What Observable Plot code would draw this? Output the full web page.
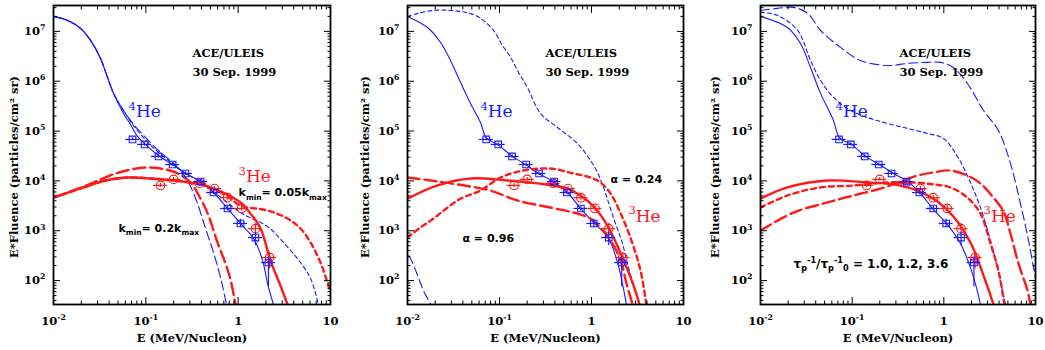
<!DOCTYPE html>
<html><head><meta charset="utf-8">
<script src="https://cdn.jsdelivr.net/npm/d3@7"></script>
<script src="https://cdn.jsdelivr.net/npm/@observablehq/plot@0.6"></script>
<style>
html,body{margin:0;padding:0;background:#fff;}
#row{display:flex;width:1045px;height:350px;overflow:hidden;}
#row svg{flex:none;display:block;}
</style></head><body><div id="row"></div>
<script>
// ---------- axes ----------
const xDomain = [0.01, 10];
const yDomain = [33.1, 3.31e7];
const xTicks = [0.01, 0.1, 1, 10];
const xTickLabels = ["10^{-2}", "10^{-1}", "1", "10"];
const yTicks = [1e2, 1e3, 1e4, 1e5, 1e6, 1e7];
const yTickLabels = ["10^{2}", "10^{3}", "10^{4}", "10^{5}", "10^{6}", "10^{7}"];
const xLabel = "E (MeV/Nucleon)";
const yLabel = "E*Fluence (particles/cm² sr)";

// ---------- measured points (same in every panel) ----------
const he4E  = [0.0718, 0.0968, 0.137, 0.195, 0.269, 0.392, 0.541, 0.767, 1.06, 1.54, 2.13];
const he4F  = [6.8e4, 5.4e4, 3.1e4, 2.13e4, 1.41e4, 9.7e3, 5.85e3, 2.8e3, 1.4e3, 730, 230];
const he4Lo = [6.3e4, 5.0e4, 2.85e4, 1.96e4, 1.3e4, 8.9e3, 5.3e3, 2.5e3, 1.15e3, 500, 75];
const he4Hi = [7.3e4, 5.8e4, 3.35e4, 2.3e4, 1.52e4, 1.05e4, 6.4e3, 3.1e3, 1.7e3, 930, 300];
const he3E  = [0.144, 0.200, 0.382, 0.555, 0.767, 1.09, 1.54, 2.19];
const he3F  = [8.1e3, 1.07e4, 8.9e3, 7.0e3, 4.6e3, 2.8e3, 1.1e3, 290];
const he3Lo = [7.4e3, 9.8e3, 8.1e3, 6.3e3, 4.1e3, 2.45e3, 880, 170];
const he3Hi = [8.9e3, 1.17e4, 9.7e3, 7.7e3, 5.1e3, 3.2e3, 1.39e3, 370];
const energyErrFactor = 1.19;

// ---------- panel 1 : k_min ----------
const p1BlueSolidE = [0.0100,0.0142,0.0196,0.0252,0.0323,0.0385,0.0447,0.0573,0.0682,0.0813,0.0968,0.137,0.195,0.269,0.391,0.541,0.767,1.06,1.47,1.84,2.08,2.41,2.60];
const p1BlueSolidF = [2.0e7,1.66e7,1.15e7,6.6e6,2.87e6,1.19e6,5.7e5,2.25e5,1.36e5,7.8e4,5.6e4,3.24e4,2.13e4,1.41e4,9.7e3,5.85e3,2.8e3,1.40e3,697,252,87,33,20];
const p1BlueDashE = [0.0100,0.0142,0.0196,0.0252,0.0323,0.0385,0.0447,0.0573,0.0735,0.0944,0.137,0.195,0.256,0.305,0.363,0.443,0.541,0.644,0.748,0.806];
const p1BlueDashF = [2.0e7,1.66e7,1.15e7,6.6e6,2.87e6,1.19e6,5.7e5,2.59e5,1.36e5,8.2e4,4.07e4,2.34e4,1.35e4,7.7e3,3.5e3,1.11e3,365,115,33,17];
const p1BlueDotE = [0.0100,0.0142,0.0196,0.0252,0.0323,0.0385,0.0447,0.0573,0.0735,0.0944,0.137,0.195,0.269,0.391,0.597,1.06,2.08,3.10,4.73,6.08,7.41,8.0];
const p1BlueDotF = [2.0e7,1.66e7,1.15e7,6.6e6,2.87e6,1.19e6,5.7e5,2.59e5,1.29e5,7.4e4,3.72e4,2.24e4,1.41e4,9.7e3,5.3e3,2.32e3,1.21e3,580,230,110,33,17];
const p1RedSolidE = [0.0100,0.0211,0.0366,0.0632,0.112,0.200,0.391,0.541,0.767,1.06,1.36,1.75,2.24,2.87,3.42,3.69];
const p1RedSolidF = [4.6e3,7.4e3,1.02e4,1.17e4,1.12e4,1.02e4,8.5e3,7.0e3,5.3e3,3.7e3,2.21e3,1.11e3,252,79,33,20];
const p1RedDashE = [0.0100,0.0211,0.0323,0.0469,0.0682,0.0991,0.144,0.210,0.305,0.391,0.477,0.597,0.730,0.826,0.935,0.984];
const p1RedDashF = [4.6e3,7.7e3,1.07e4,1.41e4,1.69e4,1.86e4,1.77e4,1.48e4,9.3e3,4.4e3,2.02e3,580,219,105,33,20];
const p1RedDotE = [0.0100,0.0211,0.0366,0.0632,0.112,0.200,0.391,0.541,0.767,1.06,2.08,3.42,4.73,6.08,7.80,9.51,10.8];
const p1RedDotF = [4.6e3,7.4e3,1.02e4,1.17e4,1.12e4,1.02e4,8.5e3,7.0e3,4.9e3,3.2e3,2.55e3,1.76e3,1.11e3,580,230,79,40];

// ---------- panel 2 : alpha ----------
const p2BlueSolidE = [0.0100,0.0165,0.0229,0.0293,0.0377,0.0484,0.0621,0.0722,0.0951,0.138,0.192,0.265,0.386,0.548,0.759,1.08,1.53,1.92,2.17,2.40,2.52];
const p2BlueSolidF = [2.0e7,1.2e7,6.0e6,2.62e6,9.5e5,3.58e5,1.49e5,7.2e4,5.4e4,3.1e4,2.13e4,1.41e4,9.7e3,5.85e3,2.8e3,1.40e3,700,230,87,33,20];
const p2BlueDotE = [0.0100,0.0129,0.0192,0.0293,0.0427,0.0577,0.0705,0.0861,0.108,0.132,0.161,0.201,0.279,0.427,0.705,0.975,1.16,1.35,1.73,2.17,2.52,3.01,3.32,3.49];
const p2BlueDotF = [2.0e7,2.3e7,2.64e7,2.64e7,2.41e7,2.0e7,1.52e7,1.05e7,5.2e6,3.0e6,1.5e6,7.5e5,2.25e5,1.18e5,5.6e4,2.57e4,1.48e4,7.4e3,1.84e3,553,182,63,33,20];
const p2BlueDashE = [0.0093,0.0100,0.0113,0.0129,0.0149,0.0178,0.0192];
const p2BlueDashF = [560,365,230,126,63,33,20];
const p2RedSolidE = [0.0100,0.0212,0.0484,0.122,0.259,0.548,0.778,1.08,1.53,2.17,2.79,3.32,3.49];
const p2RedSolidF = [4.4e3,8.1e3,1.12e4,1.02e4,8.9e3,7.0e3,4.9e3,2.92e3,1.16e3,290,91,33,20];
const p2RedDashE = [0.0100,0.0178,0.0293,0.0484,0.0798,0.157,0.358,0.705,0.975,1.19,1.61,2.07,2.40,2.79,2.93];
const p2RedDashF = [1.17e4,1.02e4,8.9e3,7.7e3,6.4e3,4.04e3,2.92e3,2.21e3,1.76e3,1.27e3,636,252,87,33,20];
const p2RedDotE = [0.0100,0.0138,0.0192,0.0265,0.0377,0.0621,0.1025,0.183,0.358,0.637,0.975,1.25,1.61,2.17,2.79,3.41,3.96,4.17];
const p2RedDotF = [730,1.16e3,1.76e3,2.8e3,4.4e3,6.4e3,1.17e4,1.62e4,1.77e4,1.41e4,1.17e4,9.3e3,5.6e3,1.84e3,553,159,33,20];

// ---------- panel 3 : tau ----------
const p3BlueSolidE = [0.0100,0.0197,0.0273,0.0351,0.0452,0.0625,0.0727,0.0984,0.140,0.199,0.282,0.402,0.556,0.771,1.12,1.52,1.95,2.27,2.51,2.64];
const p3BlueSolidF = [2.0e7,1.2e7,5.7e6,1.89e6,5.7e5,1.63e5,7.4e4,5.4e4,3.1e4,2.13e4,1.41e4,9.7e3,5.6e3,2.67e3,1.27e3,553,182,72,33,20];
const p3BlueDotE = [0.0100,0.0153,0.0254,0.0351,0.0452,0.0625,0.0960,0.147,0.243,0.402,0.664,0.991,1.45,1.95,2.51,3.23,3.85,4.36,4.71,4.94];
const p3BlueDotF = [2.41e7,2.1e7,1.05e7,2.62e6,1.04e6,4.73e5,2.59e5,1.87e5,1.42e5,1.13e5,8.95e4,7.1e4,2.82e4,9.3e3,2.92e3,636,174,63,33,20];
const p3BlueDashE = [0.0100,0.0153,0.0229,0.0326,0.0452,0.0746,0.123,0.243,0.402,0.664,0.920,1.27,1.81,2.71,3.94,5.33,6.85,8.39,9.98,11.3];
const p3BlueDashF = [2.64e7,2.9e7,3.03e7,2.3e7,1.05e7,4.78e6,2.62e6,2.07e6,2.28e6,2.39e6,2.39e6,1.89e6,9.0e5,2.59e5,1.03e5,2.24e4,3.5e3,636,115,40];
const p3RedSolidE = [0.0100,0.0197,0.0538,0.147,0.282,0.516,0.853,1.27,1.95,2.71,3.48,3.75];
const p3RedSolidF = [4.4e3,7.4e3,1.02e4,9.3e3,8.5e3,6.4e3,3.86e3,1.93e3,580,126,33,20];
const p3RedDotE = [0.0100,0.0197,0.0452,0.1035,0.243,0.467,0.771,1.18,1.81,2.51,3.23,3.94,4.59,4.82];
const p3RedDotF = [2.92e3,5.1e3,7.4e3,8.1e3,9.3e3,9.3e3,8.5e3,7.4e3,4.6e3,2.21e3,553,159,33,20];
const p3RedDashE = [0.0100,0.0229,0.0538,0.1035,0.204,0.337,0.516,0.771,1.18,1.81,2.51,3.48,4.48,5.33,6.52,8.18,8.81,9.27];
const p3RedDashF = [1.01e3,2.32e3,3.7e3,5.1e3,7.0e3,9.7e3,1.28e4,1.48e4,1.62e4,1.28e4,8.9e3,4.6e3,2.43e3,879,219,63,33,20];

// ---------- styling ----------
const BLUE = "#1a1aff", RED = "#ff1a1a";
const SERIF = "DejaVu Serif", SANS = "DejaVu Sans";
const LONG_BLUE = "9,4", SHORT_BLUE = "4,3", LONG_RED = "12,5", SHORT_RED = "5,4";
const AX = 11.5; // axis font size

const xMinor = [];
for (const d of [0.01, 0.1, 1]) for (let k = 2; k <= 9; k++) xMinor.push(d * k);
const yMinor = [];
for (const d of [10, 1e2, 1e3, 1e4, 1e5, 1e6, 1e7]) for (let k = 2; k <= 9; k++) {
  const v = d * k; if (v >= yDomain[0] && v <= yDomain[1]) yMinor.push(v);
}

function series(E, F) { return E.map((e, i) => ({E: e, F: F[i]})); }
function curve(E, F, stroke, strokeWidth, dash) {
  return Plot.line(series(E, F), {x: "E", y: "F", stroke, strokeWidth, strokeDasharray: dash, curve: "catmull-rom", clip: true});
}
const he4 = he4E.map((e, i) => ({E: e, F: he4F[i], lo: he4Lo[i], hi: he4Hi[i]}));
const he3 = he3E.map((e, i) => ({E: e, F: he3F[i], lo: he3Lo[i], hi: he3Hi[i]}));

function dataMarks() {
  const m = [];
  for (const [d, c, sym, r] of [[he3, RED, "circle", 4.3], [he4, BLUE, "square", 3.7]]) {
    m.push(Plot.ruleY(d, {y: "F", x1: p => p.E / energyErrFactor, x2: p => p.E * energyErrFactor, stroke: c, strokeWidth: 1.2}));
    m.push(Plot.ruleX(d, {x: "E", y1: "lo", y2: "hi", stroke: c, strokeWidth: 1.2}));
    m.push(Plot.dot(d, {x: "E", y: "F", symbol: sym, r, stroke: c, strokeWidth: 1.1, fill: "none"}));
  }
  return m;
}
function note(E, F, t, fill, fontSize, fontFamily, fontWeight = "normal") {
  return Plot.text([{E, F, t}], {x: "E", y: "F", text: "t", textAnchor: "start", lineAnchor: "bottom", fill, fontSize, fontFamily, fontWeight});
}
function tickMarks() {
  const o = {tickFormat: () => "", label: null, strokeWidth: 1};
  return [
    Plot.axisX({...o, anchor: "bottom", ticks: xTicks, tickSize: -7}),
    Plot.axisX({...o, anchor: "top", ticks: xTicks, tickSize: -7}),
    Plot.axisX({...o, anchor: "bottom", ticks: xMinor, tickSize: -3.5}),
    Plot.axisX({...o, anchor: "top", ticks: xMinor, tickSize: -3.5}),
    Plot.axisY({...o, anchor: "left", ticks: yTicks, tickSize: -7}),
    Plot.axisY({...o, anchor: "right", ticks: yTicks, tickSize: -7}),
    Plot.axisY({...o, anchor: "left", ticks: yMinor, tickSize: -3.5}),
    Plot.axisY({...o, anchor: "right", ticks: yMinor, tickSize: -3.5})
  ];
}
function labelMarks(labelDx) {
  const f = {fontFamily: SERIF, fontSize: AX, fontWeight: "bold"};
  return [
    Plot.axisX({anchor: "bottom", ticks: xTicks, tickSize: 0, tickPadding: 12, label: null,
      tickFormat: d => xTickLabels[xTicks.indexOf(d)], ...f}),
    Plot.axisY({anchor: "left", ticks: yTicks, tickSize: 0, tickPadding: 8, label: null,
      tickFormat: d => yTickLabels[yTicks.indexOf(d)], ...f}),
    Plot.text([yLabel], {frameAnchor: "left", text: d => d, rotate: -90, dx: labelDx, dy: 12,
      textAnchor: "middle", lineAnchor: "middle", ...f}),
    Plot.text([xLabel], {frameAnchor: "bottom", text: d => d, dy: 34,
      textAnchor: "middle", lineAnchor: "middle", ...f})
  ];
}
function commonNotes(eAce, e4) {
  return [
    note(eAce, 3.0e6, "ACE/ULEIS", "black", 11.5, SERIF, "bold"),
    note(eAce, 1.25e6, "30 Sep. 1999", "black", 11.5, SERIF, "bold"),
    note(e4, 1.88e5, "^{4}He", BLUE, 17, SERIF)
  ];
}
function panel(o) {
  return Plot.plot({
    width: o.width, height: 350,
    marginLeft: o.ml, marginRight: o.mr, marginTop: 5, marginBottom: 46,
    x: {type: "log", domain: xDomain},
    y: {type: "log", domain: yDomain},
    style: {background: "white", color: "black", fontFamily: SERIF, fontSize: "12px", overflow: "visible"},
    marks: [...o.curves, ...dataMarks(), ...o.notes, ...tickMarks(), ...labelMarks(o.labelDx),
      Plot.frame({stroke: "black", strokeWidth: 1.8})]
  });
}

// rich text: ^{..} superscript, _{..} subscript
function richify(root) {
  root.querySelectorAll("text").forEach(t => {
    const s = t.textContent;
    if (!/[\^_]\{/.test(s)) return;
    const fs = parseFloat(getComputedStyle(t).fontSize) || 12;
    t.textContent = "";
    let cur = 0;
    for (const p of s.split(/(\^\{[^}]*\}|_\{[^}]*\})/).filter(p => p !== "")) {
      let target = 0, txt = p, small = false;
      if (p.startsWith("^{")) { target = -0.42 * fs; txt = p.slice(2, -1); small = true; }
      else if (p.startsWith("_{")) { target = 0.3 * fs; txt = p.slice(2, -1); small = true; }
      const ts = document.createElementNS("http://www.w3.org/2000/svg", "tspan");
      ts.textContent = txt;
      if (small) ts.setAttribute("font-size", (0.68 * fs).toFixed(2) + "px");
      const dy = target - cur;
      if (dy) ts.setAttribute("dy", dy.toFixed(2));
      cur = target;
      t.appendChild(ts);
    }
  });
}

const row = document.getElementById("row");
const panels = [
  panel({width: 350, ml: 53, mr: 20, labelDx: -39,
    curves: [
      curve(p1BlueSolidE, p1BlueSolidF, BLUE, 1.1),
      curve(p1BlueDashE, p1BlueDashF, BLUE, 1.1, LONG_BLUE),
      curve(p1BlueDotE, p1BlueDotF, BLUE, 1.1, SHORT_BLUE),
      curve(p1RedSolidE, p1RedSolidF, RED, 2.4),
      curve(p1RedDashE, p1RedDashF, RED, 2.4, LONG_RED),
      curve(p1RedDotE, p1RedDotF, RED, 2.4, SHORT_RED)
    ],
    notes: [...commonNotes(0.32, 0.065),
      note(1.01, 9.3e3, "^{3}He", RED, 17, SERIF),
      note(1.01, 4.9e3, "k_{min}= 0.05k_{max}", "black", 11, SANS, "bold"),
      note(0.0506, 963, "k_{min}= 0.2k_{max}", "black", 11, SANS, "bold")]
  }),
  panel({width: 350, ml: 57, mr: 17, labelDx: -42,
    curves: [
      curve(p2BlueSolidE, p2BlueSolidF, BLUE, 1.1),
      curve(p2BlueDotE, p2BlueDotF, BLUE, 1.1, SHORT_BLUE),
      curve(p2BlueDashE, p2BlueDashF, BLUE, 1.1, LONG_BLUE),
      curve(p2RedSolidE, p2RedSolidF, RED, 2.4),
      curve(p2RedDashE, p2RedDashF, RED, 2.4, LONG_RED),
      curve(p2RedDotE, p2RedDotF, RED, 2.4, SHORT_RED)
    ],
    notes: [...commonNotes(0.316, 0.062),
      note(2.52, 1.53e3, "^{3}He", RED, 17, SERIF),
      note(1.61, 8.9e3, "α = 0.24", "black", 11, SANS, "bold"),
      note(0.0396, 607, "α = 0.96", "black", 11, SANS, "bold")]
  }),
  panel({width: 345, ml: 60, mr: 10, labelDx: -45,
    curves: [
      curve(p3BlueSolidE, p3BlueSolidF, BLUE, 1.1),
      curve(p3BlueDotE, p3BlueDotF, BLUE, 1.1, SHORT_BLUE),
      curve(p3BlueDashE, p3BlueDashF, BLUE, 1.1, LONG_BLUE),
      curve(p3RedSolidE, p3RedSolidF, RED, 2.4),
      curve(p3RedDotE, p3RedDotF, RED, 2.4, SHORT_RED),
      curve(p3RedDashE, p3RedDashF, RED, 2.4, LONG_RED)
    ],
    notes: [...commonNotes(0.328, 0.066),
      note(2.71, 1.53e3, "^{3}He", RED, 17, SERIF),
      note(0.0229, 182, "τ_{p}^{-1}/τ_{p}^{-1}_{0} = 1.0, 1.2, 3.6", "black", 12, SANS, "bold")]
  })
];
for (const p of panels) { row.appendChild(p); richify(p); }
</script></body></html>
